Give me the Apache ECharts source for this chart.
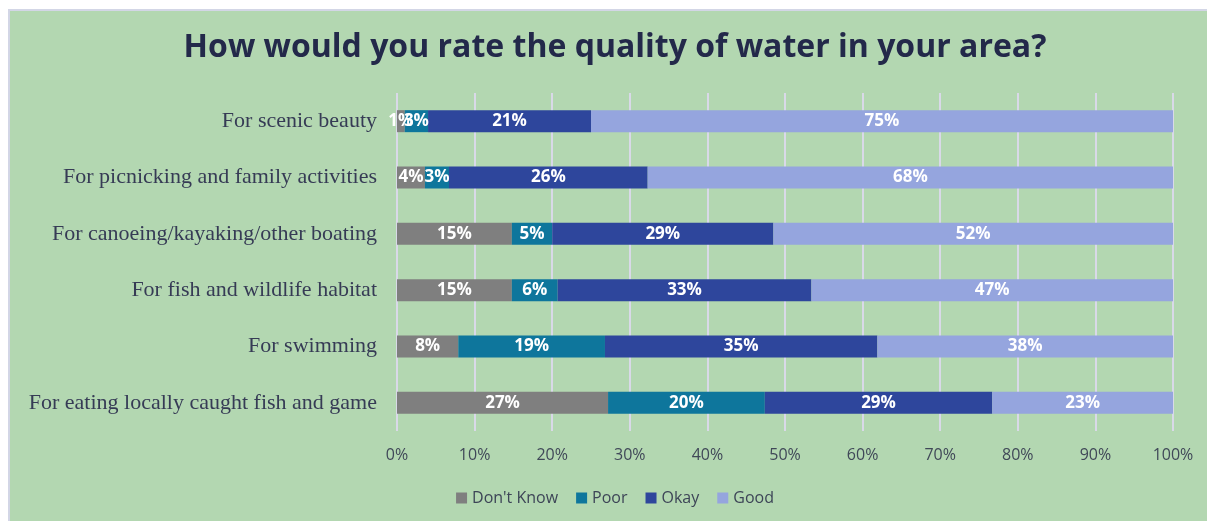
<!DOCTYPE html>
<html>
<head>
<meta charset="utf-8">
<script src="https://cdn.jsdelivr.net/npm/echarts@6/dist/echarts.min.js"></script>
<style>
  html, body { margin: 0; padding: 0; background: #fff; overflow: hidden; }
  #frame {
    position: absolute; left: 8px; top: 9px;
    width: 1210px; height: 530px;
    border: 2px solid #d3d6e6;
    background: #b3d7b1;
  }
  #chart { width: 1210px; height: 530px; }
</style>
</head>
<body>
<div id="frame"><div id="chart"></div></div>
<script>
// bottom to top, as ECharts draws category axis from the bottom
const categories = [
  'For eating locally caught fish and game',
  'For swimming',
  'For fish and wildlife habitat',
  'For canoeing/kayaking/other boating',
  'For picnicking and family activities',
  'For scenic beauty'
]
const dontKnow = [27.2, 7.9, 14.8, 14.8, 3.6, 1.0]
const poor = [20.2, 18.9, 5.9, 5.2, 3.1, 3.0]
const okay = [29.3, 35.1, 32.7, 28.5, 25.6, 21.0]
const good = [23.3, 38.1, 46.6, 51.5, 67.7, 75.0]
const xTicks = [0, 10, 20, 30, 40, 50, 60, 70, 80, 90, 100]

const seriesDefs = [
  { name: "Don't Know", data: dontKnow, color: '#7f7f7f' },
  { name: 'Poor', data: poor, color: '#0e769c' },
  { name: 'Okay', data: okay, color: '#2e469c' },
  { name: 'Good', data: good, color: '#95a5de' }
]

const chart = echarts.init(document.getElementById('chart'))

chart.setOption({
  animation: false,
  title: {
    text: 'How would you rate the quality of water in your area?',
    left: 'center',
    top: 16,
    textStyle: {
      fontFamily: 'Open Sans',
      fontSize: 32,
      fontWeight: 'bold',
      color: '#23294a'
    }
  },
  legend: {
    top: 474,
    left: 'center',
    itemWidth: 11,
    itemHeight: 11,
    itemGap: 18,
    icon: 'rect',
    textStyle: { fontFamily: 'Open Sans', fontSize: 16, color: '#3d4557' },
    data: seriesDefs.map(s => s.name)
  },
  grid: {
    left: 387,
    right: 47,
    top: 82,
    height: 338
  },
  xAxis: {
    type: 'value',
    min: xTicks[0],
    max: xTicks[xTicks.length - 1],
    interval: 10,
    axisLine: { show: false },
    axisTick: { show: false },
    splitLine: { lineStyle: { color: '#d9d9e8', width: 2 } },
    axisLabel: {
      formatter: '{value}%',
      fontFamily: 'Open Sans',
      fontSize: 16,
      color: '#404858',
      margin: 16
    }
  },
  yAxis: {
    type: 'category',
    data: categories,
    axisLine: { show: false },
    axisTick: { show: false },
    axisLabel: {
      fontFamily: 'Liberation Serif',
      fontSize: 22,
      color: '#363b55',
      margin: 20
    }
  },
  series: seriesDefs.map(s => ({
    name: s.name,
    type: 'bar',
    stack: 'total',
    data: s.data,
    barWidth: 22,
    itemStyle: { color: s.color },
    label: {
      show: true,
      position: 'inside',
      formatter: p => Math.round(p.value) + '%',
      color: '#fff',
      fontFamily: 'Open Sans',
      fontWeight: 'bold',
      fontSize: 17
    }
  }))
})
</script>
</body>
</html>
